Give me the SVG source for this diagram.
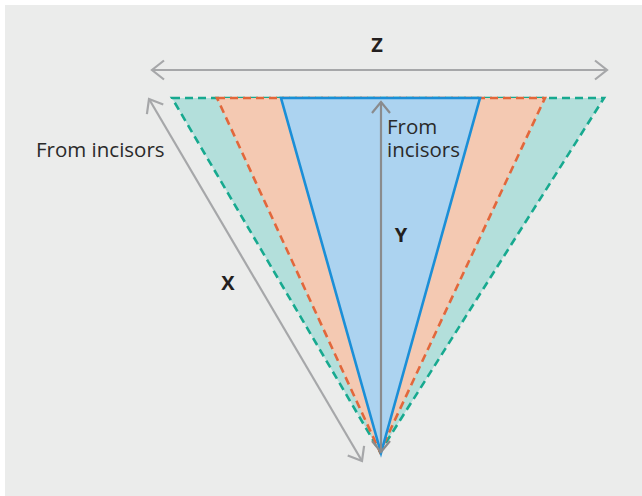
<svg xmlns="http://www.w3.org/2000/svg" width="642" height="496" viewBox="0 0 642 496">
<defs>
<style>
.lbl{font-family:"Open Sans","Noto Sans",sans-serif;font-size:20.5px;fill:#2a2a2a}
.bold{font-family:"Open Sans","Noto Sans",sans-serif;font-size:20px;font-weight:bold;fill:#231f20}
.dim{fill:none;stroke:#a6a7a9;stroke-width:2.2}
</style>
<marker id="ah" viewBox="-15 -12 17 24" refX="0" refY="0" markerWidth="17" markerHeight="24" markerUnits="userSpaceOnUse" orient="auto-start-reverse">
<path d="M-12,-9.5 L0,0 L-12,9.5" fill="none" stroke="#a6a7a9" stroke-width="2.2"/>
</marker>
<marker id="ahd" viewBox="-15 -12 17 24" refX="0" refY="0" markerWidth="17" markerHeight="24" markerUnits="userSpaceOnUse" orient="auto-start-reverse">
<path d="M-11,-9 L0,0 L-11,9" fill="none" stroke="#8a8b8d" stroke-width="2.2"/>
</marker>
</defs>
<rect x="5" y="5" width="637" height="491" fill="#ebeceb"/>
<g id="teal">
<polygon points="172,98 604,98 380,452" fill="#b3dfdb" stroke="#17a98f" stroke-width="2.6" stroke-dasharray="8,5"/>
</g>
<g id="orange">
<polygon points="217,98 545,98 380,452" fill="#f4c9b2" stroke="#e2673b" stroke-width="2.6" stroke-dasharray="8,5"/>
</g>
<g id="blue">
<polygon points="281,98 480,98 381,453" fill="#acd3f0" stroke="#1b8fd7" stroke-width="2.6"/>
</g>
<g id="connectors">
<line id="z-arrow" class="dim" x1="152" y1="70" x2="607" y2="70" marker-start="url(#ah)" marker-end="url(#ah)"/>
<line id="x-arrow" class="dim" x1="149" y1="99" x2="362" y2="461" marker-start="url(#ah)" marker-end="url(#ah)"/>
<line id="y-arrow" x1="381" y1="102" x2="381" y2="452" fill="none" stroke="#8a8b8d" stroke-width="2.2" marker-start="url(#ahd)" marker-end="url(#ahd)"/>
</g>
<g id="labels">
<text class="bold" x="377" y="52" text-anchor="middle">Z</text>
<text class="bold" x="228" y="290" text-anchor="middle">X</text>
<text class="bold" x="401" y="242" text-anchor="middle">Y</text>
<text class="lbl" x="36" y="157">From incisors</text>
<text class="lbl" x="387" y="134">From<tspan x="387" y="157">incisors</tspan></text>
</g>
</svg>
